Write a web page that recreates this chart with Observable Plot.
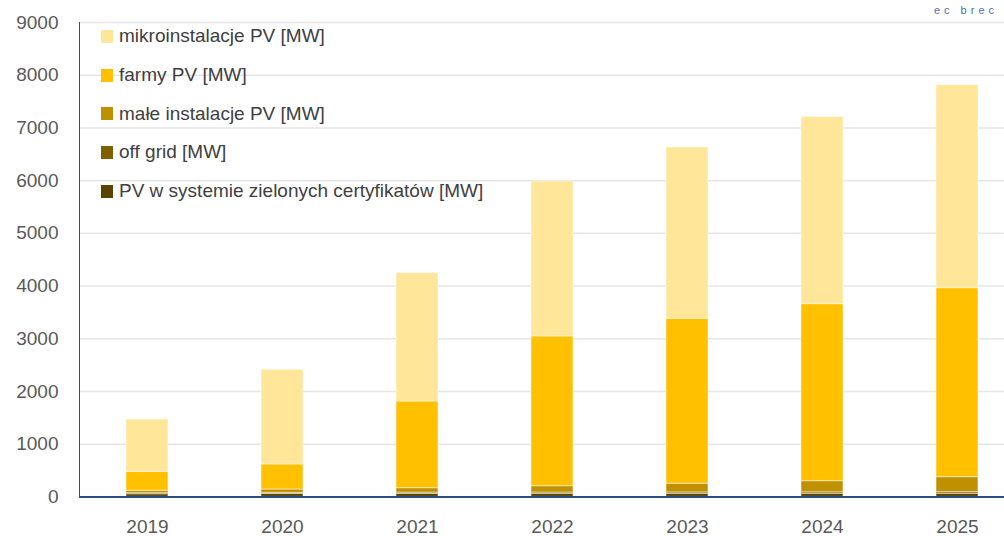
<!DOCTYPE html>
<html>
<head>
<meta charset="utf-8">
<script src="https://cdn.jsdelivr.net/npm/d3@7"></script>
<script src="https://cdn.jsdelivr.net/npm/@observablehq/plot@0.6"></script>
<style>
  body { margin: 0; background: #fff; }
  #wrap { position: relative; width: 1004px; height: 536px; font-family: "Liberation Sans", Arial, sans-serif; overflow: hidden; }
  #legend { position: absolute; left: 101px; top: 17px; }
  .item { height: 38.7px; display: flex; align-items: center; font-size: 19px; color: #404040; white-space: nowrap; }
  .sw { width: 12px; height: 13px; margin-right: 6px; flex: none; }
  #logo { position: absolute; right: 6px; top: 4px; font-size: 11px; letter-spacing: 4px; color: #4f6fa8; }
</style>
</head>
<body>
<div id="wrap">
  <div id="chart"></div>
  <div id="legend"></div>
  <div id="logo">ec brec</div>
</div>
<script>
const years = ["2019", "2020", "2021", "2022", "2023", "2024", "2025"];
const seriesNames = [
  "PV w systemie zielonych certyfikatów [MW]",
  "off grid [MW]",
  "małe instalacje PV [MW]",
  "farmy PV [MW]",
  "mikroinstalacje PV [MW]"
];
const colors = ["#594300", "#7f6000", "#bf9000", "#ffc000", "#ffe699"];
const pvZielone = [50, 55, 57, 58, 58, 59, 59];
const offGrid = [20, 22, 24, 25, 27, 28, 30];
const maleInstalacje = [46, 63, 84, 120, 164, 211, 285];
const farmyPV = [360, 475, 1645, 2841, 3131, 3359, 3586];
const mikroinstalacje = [993, 1797, 2435, 2941, 3250, 3548, 3852];
const yTicks = [0, 1000, 2000, 3000, 4000, 5000, 6000, 7000, 8000, 9000];

const seriesValues = [pvZielone, offGrid, maleInstalacje, farmyPV, mikroinstalacje];
const data = [];
seriesNames.forEach((s, i) => {
  years.forEach((y, j) => data.push({ year: y, series: s, value: seriesValues[i][j] }));
});

const chart = Plot.plot({
  width: 1004,
  height: 536,
  marginLeft: 79,
  marginRight: 0,
  marginTop: 22,
  marginBottom: 39.6,
  style: { fontFamily: "Liberation Sans, Arial, sans-serif", fontSize: "19px", color: "#595959", background: "white" },
  x: { domain: years, range: [79, 1025], paddingInner: 0.69, paddingOuter: 0.345, label: null },
  y: { domain: [0, 9000], label: null },
  color: { domain: seriesNames, range: colors },
  marks: [
    Plot.gridY(yTicks.slice(1), { stroke: "#e6e6e6", strokeOpacity: 1, strokeWidth: 1.5 }),
    Plot.barY(data, { x: "year", y: "value", fill: "series", z: "series", stroke: "white", strokeOpacity: 0.5, strokeWidth: 1 }),
    Plot.axisY(yTicks, { tickSize: 0, tickPadding: 21, tickFormat: d => String(d), fill: "#595959", label: null }),
    Plot.axisX({ tickSize: 0, tickPadding: 23, fill: "#595959", label: null }),
    Plot.frame({ anchor: "left", stroke: "#2a5082", strokeWidth: 1 }),
    Plot.ruleY([0], { stroke: "#2a5082", strokeWidth: 2 })
  ]
});
document.getElementById("chart").appendChild(chart);

const legend = document.getElementById("legend");
for (let i = seriesNames.length - 1; i >= 0; i--) {
  const item = document.createElement("div");
  item.className = "item";
  const sw = document.createElement("span");
  sw.className = "sw";
  sw.style.background = colors[i];
  const t = document.createElement("span");
  t.textContent = seriesNames[i];
  item.appendChild(sw);
  item.appendChild(t);
  legend.appendChild(item);
}
</script>
</body>
</html>
